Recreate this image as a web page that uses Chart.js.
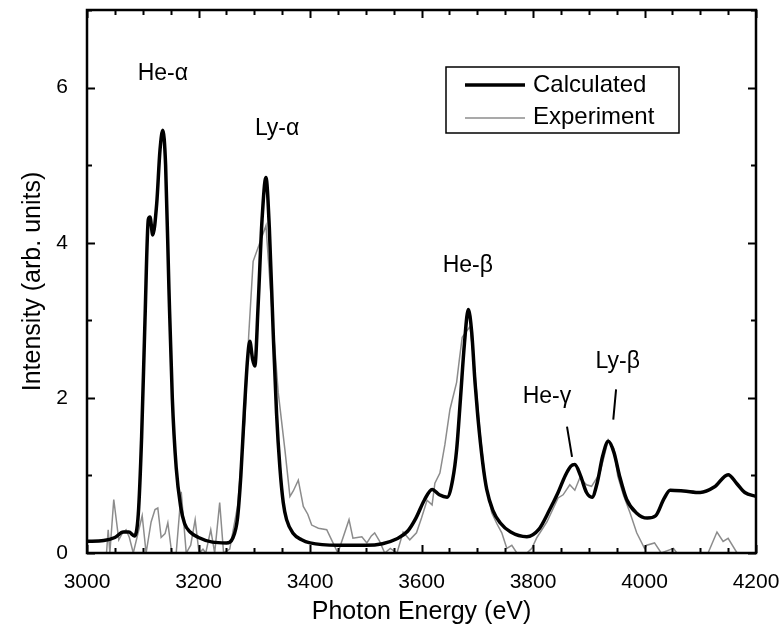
<!DOCTYPE html>
<html>
<head>
<meta charset="utf-8">
<script src="https://cdn.jsdelivr.net/npm/chart.js@4.4.1/dist/chart.umd.min.js"></script>
<style>
  html, body { margin: 0; padding: 0; background: #fff; }
</style>
</head>
<body>
<canvas id="spectrum" width="780" height="631"></canvas>
<script>
// calculated spectrum (eV, arb. units)
const calcEnergy = [3000, 3030, 3050, 3065, 3075, 3085, 3092, 3098, 3104, 3110, 3113, 3118, 3125, 3131, 3136, 3141, 3147, 3153, 3160, 3168, 3175, 3185, 3200, 3225, 3250,
  3262, 3270, 3276, 3282, 3288, 3292, 3297, 3301, 3307, 3314, 3321, 3327, 3334, 3340, 3346, 3352, 3358, 3370, 3385, 3400, 3450, 3500,
  3530, 3555, 3575, 3590, 3605, 3619, 3632, 3646, 3656, 3663, 3670, 3677, 3684, 3690, 3696, 3701, 3710, 3717, 3728, 3741, 3760, 3789,
  3810, 3830, 3845, 3858, 3868, 3875, 3885, 3896, 3906, 3915, 3925, 3935, 3945, 3955, 3968, 3985, 4005, 4020, 4035, 4046, 4070, 4100,
  4125, 4150, 4165, 4180, 4200];
const calcIntensity = [0.15, 0.16, 0.2, 0.27, 0.27, 0.22, 0.5, 1.5, 3.0, 4.3, 4.33, 4.1, 4.5, 5.2, 5.45, 5.0, 3.4, 2.0, 1.1, 0.6, 0.38, 0.27, 0.2, 0.14, 0.13,
  0.2, 0.45, 1.0, 1.8, 2.5, 2.73, 2.5, 2.41, 3.2, 4.3, 4.84, 4.2, 2.84, 1.8, 1.1, 0.65, 0.43, 0.25, 0.17, 0.13, 0.1, 0.1,
  0.12, 0.18, 0.28, 0.45, 0.68, 0.82, 0.75, 0.72, 0.95, 1.33, 2.0, 2.7, 3.14, 2.85, 2.2, 1.76, 1.15, 0.82, 0.55, 0.39, 0.27, 0.21,
  0.3, 0.56, 0.78, 1.0, 1.12, 1.14, 1.0, 0.78, 0.72, 0.9, 1.25, 1.44, 1.3, 1.0, 0.69, 0.52, 0.45, 0.48, 0.7, 0.81, 0.8, 0.78,
  0.85, 1.01, 0.9, 0.78, 0.73];

// measured spectrum
const expEnergy = [3020, 3035, 3038, 3041, 3048, 3057, 3063, 3070, 3076, 3083, 3099, 3106, 3115, 3122, 3127, 3133, 3140, 3145, 3152, 3160,
  3169, 3178, 3186, 3194, 3201, 3208, 3213, 3222, 3229, 3238, 3245, 3256, 3270, 3283, 3290, 3298, 3310, 3321, 3332, 3343,
  3355, 3364, 3370, 3379, 3388, 3396, 3403, 3415, 3430, 3440, 3450, 3470, 3477, 3485, 3493, 3502, 3510, 3516, 3525, 3534,
  3544, 3556, 3567, 3579, 3591, 3600, 3610, 3619, 3624, 3633, 3642, 3651, 3663, 3668, 3673, 3680, 3687, 3695, 3705, 3715,
  3726, 3735, 3744, 3753, 3762, 3771, 3789, 3798, 3807, 3825, 3845, 3854, 3866, 3875, 3884, 3896, 3905, 3920, 3935, 3945,
  3952, 3962, 3974, 3986, 4000, 4004, 4018, 4030, 4052, 4058, 4114, 4130, 4141, 4150, 4166];
const expIntensity = [0, 0, 0.3, 0, 0.69, 0.17, 0.25, 0.3, 0.2, 0, 0.48, 0, 0.4, 0.56, 0.58, 0.2, 0.25, 0.39, 0, 0,
  0.79, 0, 0.1, 0.43, 0, 0.05, 0, 0.3, 0, 0.65, 0, 0.05, 0.6, 1.7, 2.8, 3.76, 4.0, 4.22, 3.1, 2.07,
  1.33, 0.73, 0.8, 0.94, 0.6, 0.5, 0.36, 0.32, 0.3, 0.15, 0, 0.43, 0.19, 0.2, 0.21, 0.13, 0.22, 0.26, 0.15, 0,
  0.06, 0, 0.27, 0.17, 0.26, 0.45, 0.68, 0.62, 0.9, 1.03, 1.4, 1.85, 2.2, 2.5, 2.78, 2.85, 2.92, 2.4, 1.55, 0.9,
  0.52, 0.38, 0.26, 0.06, 0.1, 0, 0, 0.06, 0.2, 0.4, 0.71, 0.75, 0.88, 0.81, 0.97, 0.88, 0.86, 1.03, 1.46, 1.35,
  0.99, 0.75, 0.52, 0.26, 0.06, 0.1, 0.13, 0, 0.06, 0, 0, 0.27, 0.15, 0.19, 0];

const yTicks = [0, 2, 4, 6];

// line labels, placed in data units
const peakLabels = ['He-\u03B1', 'Ly-\u03B1', 'He-\u03B2', 'He-\u03B3', 'Ly-\u03B2'];
const labelEnergy = [3136, 3341, 3683, 3825, 3952];
const labelIntensity = [6.18, 5.47, 3.70, 2.02, 2.47];
// leader lines for He-γ and Ly-β: [x1, y1, x2, y2]
const leaders = [[3861, 1.63, 3870, 1.24], [3949, 2.11, 3944, 1.72]];

const FONT = '"Liberation Sans", Arial, Helvetica, sans-serif';
Chart.defaults.font.family = FONT;
Chart.defaults.color = '#000';

const toPoints = (xs, ys) => xs.map((x, i) => ({ x: x, y: ys[i] }));

const framePlugin = {
  id: 'frame',
  afterDatasetsDraw(chart) {
    const { ctx, chartArea: a, scales } = chart;
    const xs = scales.x, ys = scales.y;
    ctx.save();
    ctx.strokeStyle = '#000';

    // inward ticks on all four sides
    ctx.lineWidth = 2;
    ctx.beginPath();
    for (let v = 3000; v <= 4200; v += 50) {
      const px = Math.round(xs.getPixelForValue(v)) + 0.5;
      const len = v % 200 === 0 ? 8 : 5;
      ctx.moveTo(px, a.bottom); ctx.lineTo(px, a.bottom - len);
      ctx.moveTo(px, a.top); ctx.lineTo(px, a.top + len);
    }
    for (let v = 0; v <= 7; v += 1) {
      const py = Math.round(ys.getPixelForValue(v)) + 0.5;
      const len = v % 2 === 0 ? 8 : 5;
      ctx.moveTo(a.left, py); ctx.lineTo(a.left + len, py);
      ctx.moveTo(a.right, py); ctx.lineTo(a.right - len, py);
    }
    ctx.stroke();

    // box
    ctx.lineWidth = 2.5;
    ctx.strokeRect(a.left, a.top, a.right - a.left, a.bottom - a.top);

    // peak labels
    ctx.fillStyle = '#000';
    ctx.font = '23px ' + FONT;
    ctx.textAlign = 'center';
    ctx.textBaseline = 'middle';
    peakLabels.forEach((t, i) => {
      ctx.fillText(t, xs.getPixelForValue(labelEnergy[i]), ys.getPixelForValue(labelIntensity[i]));
    });
    ctx.lineWidth = 2;
    ctx.beginPath();
    leaders.forEach(l => {
      ctx.moveTo(xs.getPixelForValue(l[0]), ys.getPixelForValue(l[1]));
      ctx.lineTo(xs.getPixelForValue(l[2]), ys.getPixelForValue(l[3]));
    });
    ctx.stroke();

    // legend box
    const lx = a.left + 359, ly = a.top + 57, lw = 233, lh = 66;
    ctx.lineWidth = 1.5;
    ctx.strokeRect(lx, ly, lw, lh);
    ctx.lineWidth = 3.5;
    ctx.beginPath();
    ctx.moveTo(lx + 19, ly + 18); ctx.lineTo(lx + 79, ly + 18);
    ctx.stroke();
    ctx.strokeStyle = '#8c8c8c';
    ctx.lineWidth = 1.5;
    ctx.beginPath();
    ctx.moveTo(lx + 19, ly + 51); ctx.lineTo(lx + 79, ly + 51);
    ctx.stroke();
    ctx.font = '24px ' + FONT;
    ctx.textAlign = 'left';
    ctx.fillText('Calculated', lx + 87, ly + 18);
    ctx.fillText('Experiment', lx + 87, ly + 50);
    ctx.restore();
  }
};

const ctx = document.getElementById('spectrum').getContext('2d');
new Chart(ctx, {
  type: 'line',
  data: {
    datasets: [
      {
        label: 'Calculated',
        data: toPoints(calcEnergy, calcIntensity),
        borderColor: '#000',
        borderWidth: 3.5,
        pointRadius: 0,
        cubicInterpolationMode: 'monotone'
      },
      {
        label: 'Experiment',
        data: toPoints(expEnergy, expIntensity),
        borderColor: '#8c8c8c',
        borderWidth: 1.5,
        pointRadius: 0,
        tension: 0
      }
    ]
  },
  options: {
    responsive: false,
    animation: false,
    devicePixelRatio: 1,
    layout: { padding: { left: 0, top: 10, right: 24, bottom: 0 } },
    plugins: { legend: { display: false }, tooltip: { enabled: false } },
    scales: {
      x: {
        type: 'linear',
        min: 3000,
        max: 4200,
        grid: { display: false },
        border: { display: false },
        ticks: { stepSize: 200, padding: 9, color: '#000', font: { size: 21 }, maxRotation: 0, autoSkip: false, callback: v => String(v) },
        title: { display: true, text: 'Photon Energy (eV)', color: '#000', font: { size: 25 }, padding: { top: 0, bottom: 4 } },
        afterFit: s => { s.height = 78; s.paddingLeft = 0; s.paddingRight = 0; }
      },
      y: {
        min: 0,
        max: 7,
        grid: { display: false },
        border: { display: false },
        afterBuildTicks: s => { s.ticks = yTicks.map(v => ({ value: v })); },
        ticks: { padding: 11, color: '#000', font: { size: 21 }, callback: v => String(v) },
        title: { display: true, text: 'Intensity (arb. units)', color: '#000', font: { size: 25 }, padding: { top: 18, bottom: 0 } },
        afterFit: s => { s.width = 87; s.paddingTop = 0; s.paddingBottom = 0; }
      }
    }
  },
  plugins: [framePlugin]
});
</script>
</body>
</html>
